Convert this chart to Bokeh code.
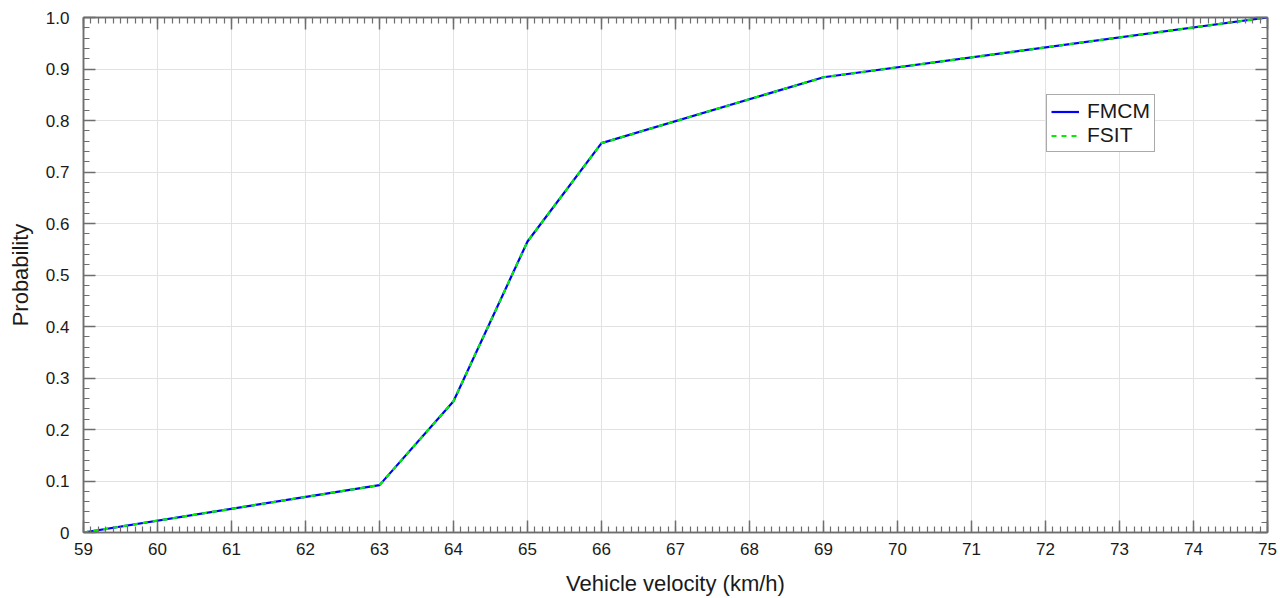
from bokeh.plotting import figure
from bokeh.models import (LinearAxis, FixedTicker, CustomJSTickFormatter, Range1d,
                          Legend, LegendItem)
from bokeh.embed import file_html
from bokeh.resources import INLINE

velocity = [59, 63, 64, 65, 66, 69, 75]
fmcm = [0.0, 0.092, 0.255, 0.565, 0.756, 0.884, 1.0]
fsit = [0.0, 0.092, 0.255, 0.565, 0.756, 0.884, 1.0]
x_ticks = list(range(59, 76))
y_ticks = [round(i / 10, 1) for i in range(11)]

FONT = "Liberation Sans"
AX = "#6e6e6e"

p = figure(width=1280, height=598, output_backend="svg", toolbar_location=None,
           x_range=Range1d(59, 75), y_range=Range1d(0, 1),
           min_border_left=83, min_border_right=13, min_border_top=17, min_border_bottom=66,
           x_axis_label="Vehicle velocity (km/h)", y_axis_label="Probability")
p.background_fill_color = "white"
p.border_fill_color = "white"
p.outline_line_color = AX
p.outline_line_width = 1.5

xminor = [59 + i / 10 for i in range(161)]
yminor = [i / 50 for i in range(51)]

def style(ax, ticks, minor, labels=True):
    ax.ticker = FixedTicker(ticks=ticks, minor_ticks=minor)
    ax.axis_line_color = AX
    ax.axis_line_width = 1.5
    ax.major_tick_line_color = AX
    ax.minor_tick_line_color = AX
    ax.major_tick_line_width = 1.5
    ax.minor_tick_line_width = 1.2
    ax.major_tick_in = 12
    ax.major_tick_out = 0
    ax.minor_tick_in = 6
    ax.minor_tick_out = 0
    ax.major_label_text_font = FONT
    ax.major_label_text_font_size = "17px"
    ax.major_label_text_color = "#1a1a1a"
    ax.axis_label_text_font = FONT
    ax.axis_label_text_font_size = "22px"
    ax.axis_label_text_font_style = "normal"
    ax.axis_label_text_color = "#1a1a1a"
    if not labels:
        ax.formatter = CustomJSTickFormatter(code="return '';")
        ax.major_label_standoff = 0

xa = p.xaxis[0]
ya = p.yaxis[0]
style(xa, x_ticks, xminor)
style(ya, y_ticks, yminor)
xa.major_label_standoff = 10
xa.axis_label_standoff = 13
ya.major_label_standoff = 14
ya.axis_label_standoff = 10
ya.formatter = CustomJSTickFormatter(code="return tick == 0 ? '0' : tick.toFixed(1);")

top = LinearAxis()
right = LinearAxis()
style(top, x_ticks, xminor, labels=False)
style(right, y_ticks, yminor, labels=False)
p.add_layout(top, "above")
p.add_layout(right, "right")

p.xgrid.ticker = FixedTicker(ticks=x_ticks)
p.ygrid.ticker = FixedTicker(ticks=y_ticks)
p.xgrid.grid_line_color = "#e2e2e2"
p.ygrid.grid_line_color = "#e2e2e2"
p.xgrid.grid_line_width = 1
p.ygrid.grid_line_width = 1

r1 = p.line(velocity, fmcm, line_color="#0000ff", line_width=2.2)
r2 = p.line(velocity, fsit, line_color="#00ee00", line_width=2.2, line_dash="5 5")

legend = Legend(items=[LegendItem(label="FMCM", renderers=[r1]),
                       LegendItem(label="FSIT", renderers=[r2])],
                location=(963, 380))
legend.label_text_font = FONT
legend.label_text_font_size = "21px"
legend.label_text_color = "#1a1a1a"
legend.border_line_color = "#555555"
legend.border_line_width = 1.2
legend.background_fill_color = "white"
legend.padding = 4
legend.spacing = 0
legend.margin = 0
legend.glyph_width = 28
legend.label_standoff = 8
legend.label_height = 23
legend.glyph_height = 23
p.add_layout(legend, "center")

open("out.html", "w").write(file_html(p, INLINE))
